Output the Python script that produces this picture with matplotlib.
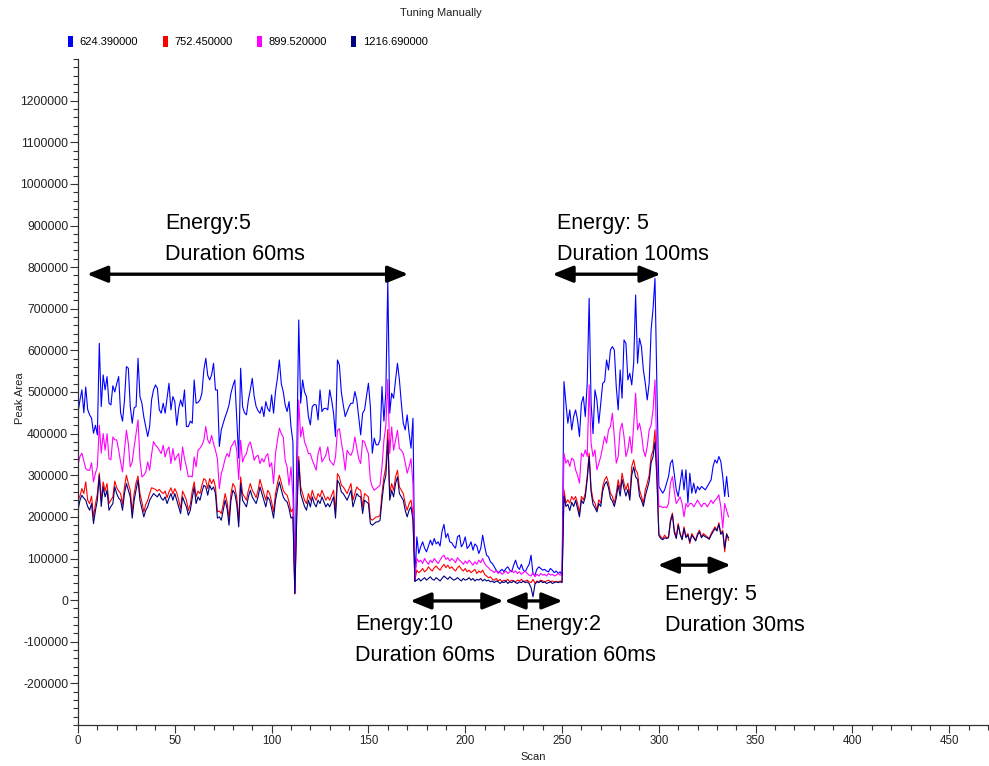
import numpy as np
import matplotlib
matplotlib.use('Agg')
import matplotlib.pyplot as plt
from matplotlib.ticker import MultipleLocator, FixedLocator, FuncFormatter
from matplotlib.patches import Rectangle

plt.rcParams['font.family'] = ['Liberation Sans', 'DejaVu Sans']

# ---------------- data (Peak Area, in thousands, one value per scan 0..336) -------------
series_names = ['624.390000', '752.450000', '899.520000', '1216.690000']
series_colors = ['#0000FF', '#FF0000', '#FF00FF', '#000080']

blue_k = [
    450, 480, 505, 450, 512, 458, 445, 437, 401, 420,
    397, 617, 465, 541, 505, 537, 473, 469, 515, 500,
    520, 537, 450, 430, 480, 561, 557, 465, 425, 462,
    465, 581, 489, 473, 440, 417, 393, 417, 481, 505,
    517, 509, 457, 449, 473, 449, 485, 521, 457, 489,
    477, 420, 460, 481, 465, 505, 417, 417, 430, 425,
    529, 473, 475, 481, 497, 553, 581, 540, 529, 541,
    569, 505, 505, 369, 409, 425, 440, 453, 469, 497,
    515, 529, 433, 341, 557, 465, 450, 445, 481, 505,
    533, 489, 465, 455, 449, 465, 441, 477, 460, 453,
    493, 449, 501, 533, 577, 520, 501, 469, 453, 477,
    417, 380, 17, 345, 673, 473, 529, 500, 489, 441,
    421, 465, 470, 469, 433, 505, 453, 460, 461, 457,
    505, 480, 449, 393, 577, 565, 500, 469, 441, 453,
    465, 473, 473, 501, 481, 440, 397, 449, 457, 490,
    521, 465, 353, 389, 373, 373, 385, 513, 430, 500,
    769, 449, 497, 485, 529, 569, 529, 473, 425, 409,
    445, 401, 365, 437, 45,
    152, 112, 128, 140, 125,
    116, 130, 144, 132, 148, 135, 140, 130, 165, 182,
    150, 160, 140, 138, 130, 125, 152, 156, 128, 136,
    152, 124, 130, 140, 120, 135, 130, 112, 124, 156,
    130, 108, 104, 92, 88, 80, 72, 66, 70, 74,
    68, 76, 80, 72, 68, 84, 96, 80, 74, 86,
    72, 68, 78, 86, 108, 62, 60, 74, 80, 76,
    72, 74, 70, 68, 76, 72, 66, 70, 64, 68, 60,
    525, 473, 425, 457, 409, 441, 457, 433, 393, 473,
    489, 441, 521, 725, 473, 400, 505, 481, 425, 473,
    521, 525, 577, 553, 601, 609, 601, 513, 457, 553,
    485, 625, 617, 529, 545, 517, 569, 733, 569, 629,
    609, 553, 521, 481, 521, 649, 700, 773, 510,
    273, 265, 257, 265, 281, 297, 329, 337, 300, 265,
    249, 281, 313, 265, 313, 233, 305, 257, 281, 257,
    273, 265, 273, 269, 265, 273, 281, 289, 321, 337,
    329, 345, 333, 297, 249, 297, 249,
]

red_k = [
    240, 250, 268, 256, 284, 240, 232, 250, 200, 230,
    256, 305, 240, 284, 262, 280, 232, 240, 248, 286,
    270, 262, 256, 230, 272, 300, 280, 264, 212, 256,
    282, 298, 256, 236, 212, 230, 240, 256, 270, 268,
    266, 262, 266, 260, 256, 262, 246, 260, 270, 255,
    268, 258, 240, 220, 262, 252, 240, 215, 230, 262,
    284, 248, 262, 256, 276, 292, 288, 268, 292, 280,
    290, 272, 212, 214, 208, 230, 256, 235, 196, 256,
    280, 272, 246, 190, 296, 256, 248, 240, 264, 280,
    264, 256, 246, 264, 290, 272, 256, 240, 264, 256,
    236, 212, 256, 280, 300, 282, 264, 256, 252, 236,
    212, 220, 16, 220, 345, 272, 256, 240, 232, 256,
    240, 264, 248, 240, 256, 248, 264, 252, 240, 248,
    240, 252, 264, 212, 304, 296, 276, 272, 264, 256,
    268, 280, 240, 256, 272, 266, 264, 224, 256, 252,
    248, 196, 192, 196, 200, 200, 204, 256, 296, 320,
    410, 256, 280, 264, 296, 312, 272, 264, 256, 232,
    216, 232, 240, 208, 48,
    72, 66, 70, 76, 68,
    72, 80, 74, 70, 78, 82, 76, 72, 80, 86,
    78, 84, 76, 80, 74, 70, 78, 82, 74, 70,
    76, 68, 72, 66, 70, 74, 64, 70, 66, 72,
    62, 58, 54, 56, 50, 48, 52, 46, 50, 44,
    48, 46, 50, 44, 48, 46, 44, 48, 46, 50,
    44, 46, 48, 44, 42, 50, 40, 46, 44, 48,
    46, 44, 46, 48, 44, 46, 44, 45, 43, 46, 44,
    265, 233, 241, 233, 249, 241, 249, 233, 209, 249,
    241, 257, 297, 353, 269, 241, 233, 217, 241, 233,
    273, 289, 297, 281, 257, 249, 233, 257, 289, 265,
    305, 281, 265, 281, 249, 321, 337, 313, 305, 265,
    249, 233, 265, 281, 300, 345, 360, 409, 300,
    160, 152, 148, 156, 150, 152, 193, 209, 168, 152,
    184, 160, 148, 176, 152, 160, 136, 160, 152, 144,
    160, 168, 152, 160, 156, 152, 148, 160, 168, 176,
    168, 186, 160, 168, 116, 160, 144,
]

magenta_k = [
    325, 345, 353, 335, 316, 312, 312, 330, 284, 305,
    320, 420, 353, 400, 360, 400, 340, 337, 392, 385,
    385, 360, 332, 308, 360, 408, 376, 320, 332, 368,
    400, 433, 337, 296, 300, 308, 332, 312, 350, 381,
    372, 368, 360, 352, 372, 344, 360, 368, 328, 364,
    336, 345, 352, 312, 368, 340, 320, 296, 298, 296,
    344, 320, 360, 365, 372, 384, 417, 385, 376, 396,
    376, 360, 340, 268, 304, 320, 340, 352, 344, 368,
    375, 384, 360, 290, 384, 332, 345, 352, 372, 380,
    360, 336, 345, 348, 328, 340, 332, 345, 352, 320,
    330, 280, 352, 384, 413, 400, 392, 336, 320, 276,
    320, 250, 17, 250, 481, 392, 416, 380, 368, 352,
    352, 336, 325, 312, 352, 368, 332, 340, 348, 368,
    336, 330, 324, 344, 408, 412, 380, 352, 312, 360,
    352, 348, 360, 392, 365, 340, 328, 384, 380, 365,
    352, 288, 272, 264, 268, 272, 276, 320, 384, 420,
    530, 352, 416, 360, 384, 408, 364, 360, 352, 330,
    305, 320, 340, 280, 50,
    100, 92, 96, 88, 100,
    92, 86, 96, 90, 100, 94, 88, 96, 104, 108,
    98, 102, 94, 100, 96, 90, 102, 96, 92, 86,
    94, 88, 96, 90, 84, 92, 86, 96, 90, 100,
    88, 82, 78, 72, 70, 66, 72, 64, 68, 62,
    66, 70, 64, 68, 72, 66, 70, 64, 68, 62,
    66, 70, 64, 60, 58, 66, 56, 62, 58, 64,
    60, 62, 58, 64, 60, 62, 58, 60, 64, 60, 62,
    353, 329, 337, 321, 341, 337, 313, 300, 281, 353,
    345, 361, 345, 517, 377, 345, 361, 313, 329, 345,
    369, 393, 377, 409, 417, 449, 393, 329, 345, 409,
    425, 393, 345, 361, 393, 353, 420, 497, 409, 425,
    401, 361, 345, 369, 409, 420, 457, 529, 345,
    224, 226, 222, 224, 222, 232, 281, 297, 260, 232,
    240, 248, 232, 200, 232, 224, 232, 232, 224, 232,
    240, 232, 224, 232, 232, 224, 232, 240, 232, 240,
    245, 253, 224, 173, 232, 215, 200,
]

navy_k = [
    216, 240, 252, 245, 240, 225, 216, 232, 184, 215,
    240, 300, 225, 272, 248, 264, 216, 225, 232, 272,
    256, 245, 240, 216, 256, 280, 264, 248, 197, 240,
    265, 288, 240, 220, 200, 216, 224, 240, 248, 256,
    252, 248, 256, 245, 240, 248, 232, 245, 256, 240,
    256, 240, 224, 208, 248, 235, 224, 204, 216, 245,
    272, 232, 248, 240, 260, 276, 272, 252, 276, 265,
    272, 256, 197, 200, 192, 216, 240, 220, 180, 240,
    264, 256, 230, 176, 280, 240, 232, 224, 248, 264,
    248, 240, 232, 248, 272, 256, 240, 224, 248, 240,
    220, 197, 240, 264, 284, 265, 248, 240, 236, 220,
    197, 200, 15, 200, 335, 256, 240, 225, 216, 240,
    224, 248, 232, 224, 240, 232, 248, 236, 224, 232,
    224, 236, 248, 197, 288, 280, 260, 256, 248, 240,
    252, 264, 224, 240, 256, 250, 248, 208, 240, 236,
    232, 184, 180, 184, 188, 188, 192, 240, 280, 300,
    385, 240, 264, 248, 280, 296, 256, 248, 240, 216,
    200, 216, 224, 192, 45,
    48, 52, 46, 50, 54,
    48, 52, 56, 50, 48, 54, 50, 46, 52, 58,
    54, 50, 56, 52, 48, 50, 54, 50, 46, 52,
    48, 50, 54, 48, 52, 46, 50, 48, 52, 46,
    50, 46, 48, 44, 46, 42, 46, 44, 40, 44,
    42, 46, 40, 44, 42, 46, 42, 40, 44, 42,
    46, 42, 44, 40, 30, 8, 38, 44, 42, 46,
    42, 44, 40, 42, 44, 40, 42, 44, 42, 44, 42,
    250, 225, 230, 215, 235, 225, 240, 220, 200, 240,
    232, 248, 290, 345, 260, 230, 222, 212, 232, 225,
    262, 278, 285, 270, 245, 238, 225, 245, 276, 250,
    290, 268, 250, 266, 240, 300, 320, 296, 290, 250,
    240, 225, 250, 268, 285, 330, 345, 380, 290,
    155, 148, 145, 150, 148, 150, 188, 205, 162, 148,
    180, 158, 145, 172, 150, 156, 140, 156, 150, 142,
    156, 164, 150, 156, 152, 150, 146, 156, 164, 172,
    166, 182, 158, 164, 125, 158, 150,
]

series_values_k = [blue_k, red_k, magenta_k, navy_k]

# annotations (label text, text anchor, double arrow span)
ann_texts = ['Energy:5\nDuration 60ms', 'Energy:10\nDuration 60ms', 'Energy:2\nDuration 60ms',
             'Energy: 5\nDuration 100ms', 'Energy: 5\nDuration 30ms']
ann_text_x = [45, 143.2, 226, 247.2, 303]
ann_text_y = [930000, -33600, -33600, 930000, 38500]
arrow_x1 = [4.6, 171.6, 220.2, 245.0, 299.4]
arrow_x2 = [170.6, 219.8, 250.3, 301.0, 337.2]
arrow_y = [783000, -2000, -2000, 783000, 84000]

# ---------------- figure ----------------
W, H = 989, 766
fig = plt.figure(figsize=(W / 100, H / 100), dpi=100)
ax = fig.add_axes([78 / W, 41 / H, 910 / W, 666 / H])

for name, color, vals in zip(series_names, series_colors, series_values_k):
    y = np.array(vals, dtype=float) * 1000
    x = np.arange(len(y))
    ax.plot(x, y, color=color, lw=0.8, label=name)

ax.set_xlim(0, 470)
ax.set_ylim(-300000, 1300000)

ax.xaxis.set_major_locator(FixedLocator(np.arange(0, 451, 50)))
ax.xaxis.set_minor_locator(MultipleLocator(10))
ax.yaxis.set_major_locator(FixedLocator(np.arange(-200000, 1200001, 100000)))
ax.yaxis.set_minor_locator(MultipleLocator(20000))
ax.yaxis.set_major_formatter(FuncFormatter(lambda v, p: f'{int(round(v))}'))
ax.xaxis.set_major_formatter(FuncFormatter(lambda v, p: f'{int(round(v))}'))

for s in ['top', 'right']:
    ax.spines[s].set_visible(False)
for s in ['left', 'bottom']:
    ax.spines[s].set_color('#333333')
    ax.spines[s].set_linewidth(0.9)

ax.tick_params(axis='both', which='major', direction='out', length=5.5, width=0.8,
               color='#333333', labelcolor='#222222', pad=1.5)
ax.tick_params(axis='x', which='major', labelsize=8.3)
ax.tick_params(axis='y', which='major', labelsize=8.7)
ax.tick_params(axis='both', which='minor', direction='out', length=3.3, width=0.8,
               color='#333333')

ax.set_xlabel('Scan', fontsize=8, color='#222222')
ax.xaxis.set_label_coords(0.5, -0.040)
ax.set_ylabel('Peak Area', fontsize=8, color='#222222')
ax.yaxis.set_label_coords(-0.058, 0.49)

fig.text(441 / W, 1 - 13 / H, 'Tuning Manually', ha='center', va='center',
         fontsize=8, color='#222222')

handles = [Rectangle((0, 0), 1, 1, facecolor=c, edgecolor='none') for c in series_colors]
ax.legend(handles, series_names, loc='upper left', bbox_to_anchor=(68 / W, 1 - 36 / H),
          bbox_transform=fig.transFigure, ncol=4, frameon=False, fontsize=8,
          handlelength=0.45, handleheight=1.1, handletextpad=0.6, columnspacing=2.2,
          borderpad=0, borderaxespad=0)

for t, tx, ty in zip(ann_texts, ann_text_x, ann_text_y):
    ax.text(tx, ty, t, fontsize=15.5, ha='left', va='top', linespacing=1.62, color='black')

for x1, x2, yy in zip(arrow_x1, arrow_x2, arrow_y):
    ax.annotate('', xy=(x2, yy), xytext=(x1, yy),
                arrowprops=dict(arrowstyle='<|-|>,head_length=0.62,head_width=0.25',
                                color='black', lw=2.4, shrinkA=0, shrinkB=0,
                                mutation_scale=20))

fig.savefig('out.png', dpi=100)
